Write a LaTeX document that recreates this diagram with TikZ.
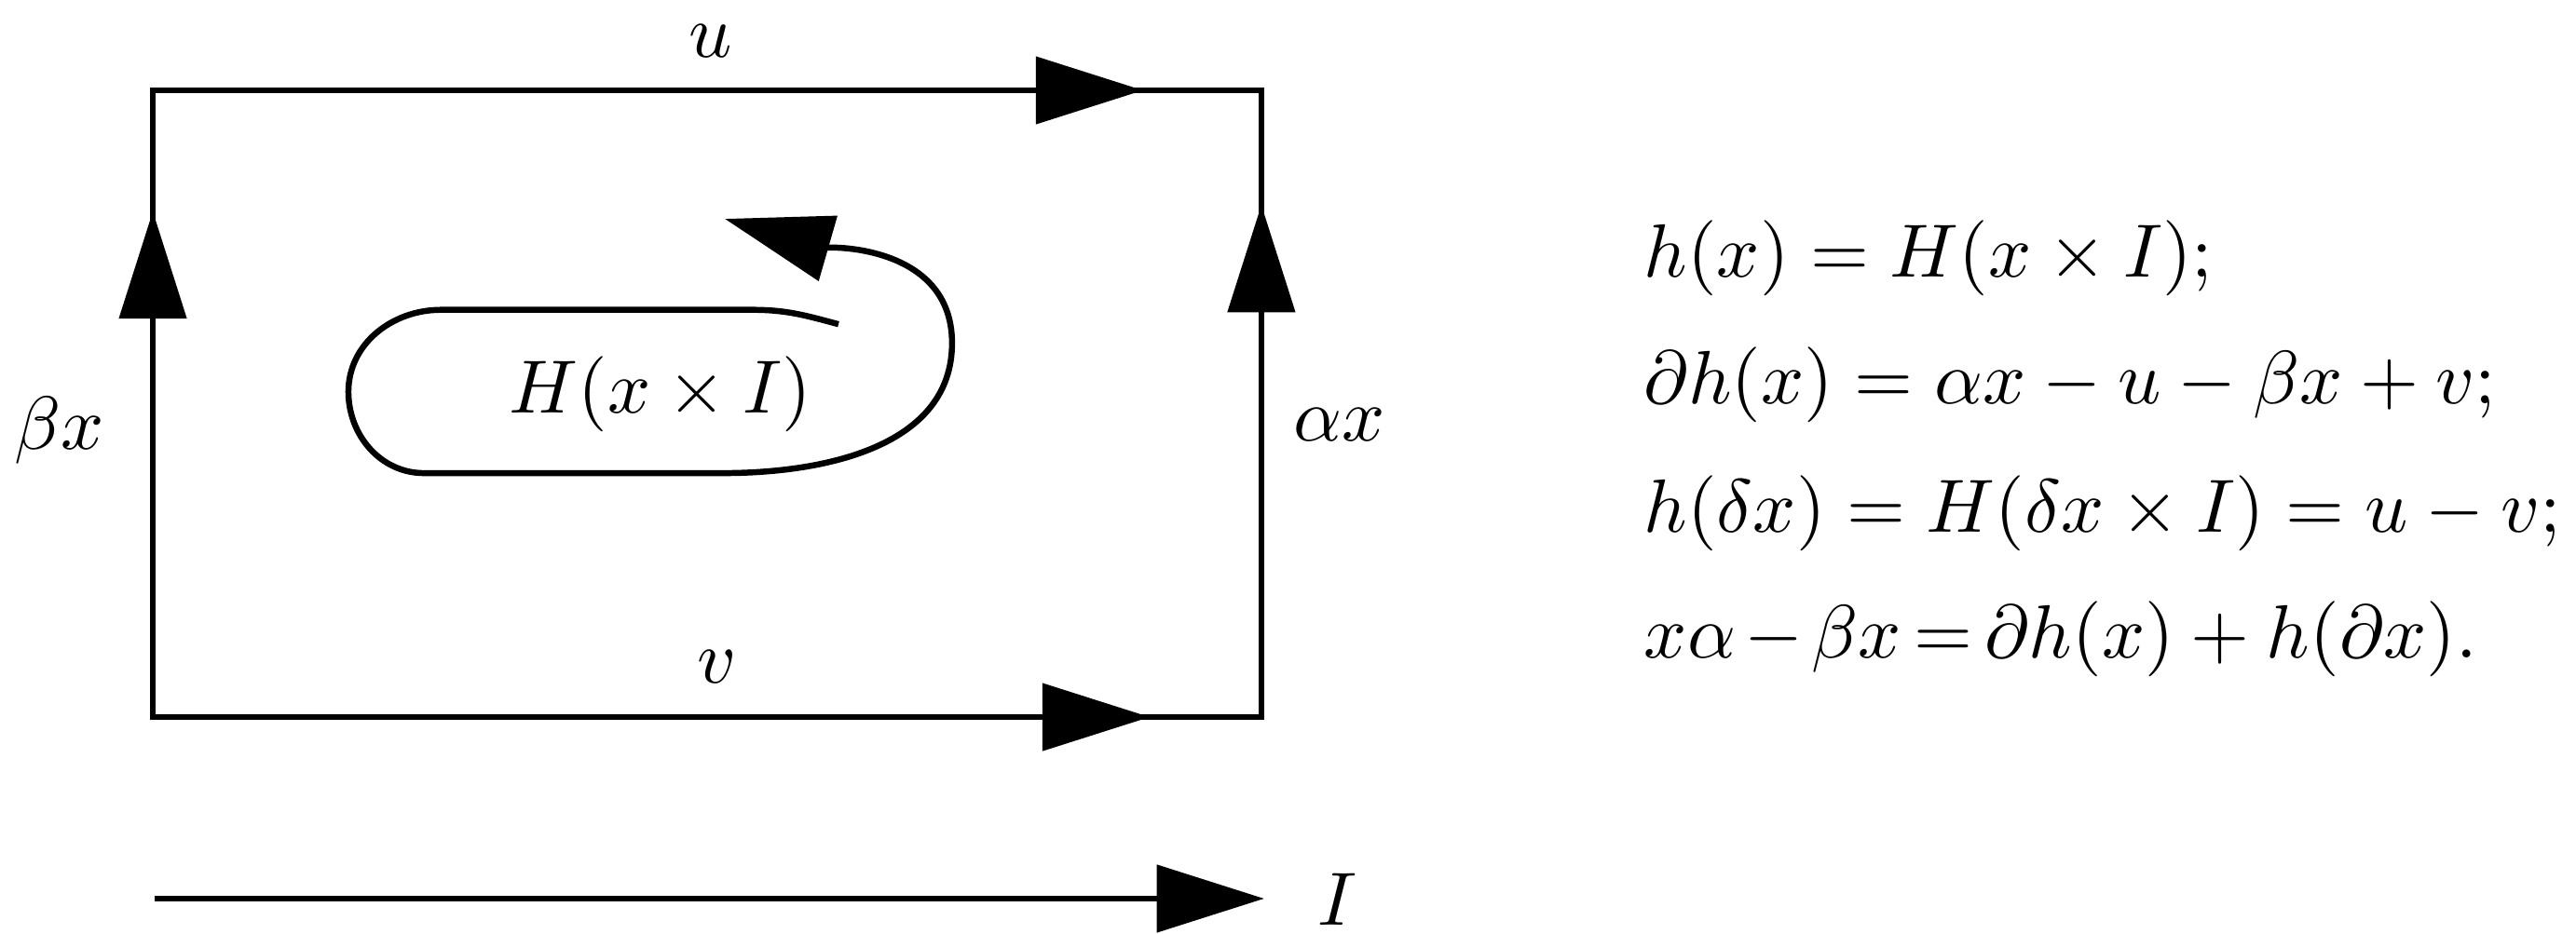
\documentclass[tikz,border=0pt]{standalone}
\usepackage{amsmath}
\usetikzlibrary{arrows.meta, calc, positioning}

\begin{document}
\begin{tikzpicture}[
  x=1cm, y=1cm,
  font=\normalsize,
  edge/.style={draw, line width=0.8pt},
  arr/.style={-{Triangle[length=0.5cm, width=0.31cm]}, line width=0.8pt},
  lbl/.style={inner sep=0pt},
  eq/.style={anchor=base west, inner sep=0pt}
]
\useasboundingbox (0,0) rectangle (12,4.349);

%% ——— Rectángulo x × I ———
\coordinate (sw) at (0.712, 1.007);
\coordinate (nw) at (0.712, 3.928);
\coordinate (ne) at (5.876, 3.928);
\coordinate (se) at (5.876, 1.007);
\draw[edge] (sw) -- (nw) -- (ne) -- (se) -- cycle;

%% ——— Puntas sobre los lados ———
\coordinate (tipw) at (0.712, 3.364);
\coordinate (tipe) at (5.876, 3.394);
\coordinate (tipn) at (5.325, 3.928);
\coordinate (tips) at (5.356, 1.007);
\draw[arr] (sw) -- (tipw);
\draw[arr] (se) -- (tipe);
\draw[arr] (nw) -- (tipn);
\draw[arr] (sw) -- (tips);

%% ——— Etiquetas de los lados ———
\node[lbl] (u)  at (3.311, 4.158) {$u$};
\node[lbl] (v)  at (3.342, 1.241) {$v$};
\node[lbl] (bx) at (0.275, 2.344) {$\beta x$};
\node[lbl] (ax) at (6.240, 2.370) {$\alpha x$};

%% ——— Lazo H(x × I) ———
\node[lbl] (hxi) at (3.077, 2.513) {$H(x \times I)$};
\draw[arr] (3.906,2.838) to[out=165,in=0] (3.506,2.905) -- (2.053,2.905)
  to[out=180,in=90] (1.623,2.523) to[out=-90,in=180] (1.975,2.144)
  -- (3.368,2.144) to[out=0,in=-90] (4.435,2.75) to[out=90,in=-16] (3.377,3.329);

%% ——— Eje I ———
\coordinate (istart) at (0.720, 0.161);
\coordinate (itip)   at (5.889, 0.161);
\node[lbl] (i) at (6.228, 0.156) {$I$};
\draw[arr] (istart) -- (itip);

%% ——— Ecuaciones ———
\node[eq] (eqa) at (7.652, 3.059) {$h(x) = H(x \times I);$};
\node[eq] (eqb) at (7.652, 2.468) {$\partial h(x) = \alpha x - u - \beta x + v;$};
\node[eq] (eqc) at (7.652, 1.869) {$h(\delta x) = H(\delta x \times I) = u - v;$};
\node[eq] (eqd) at (7.652, 1.283) {$x\alpha\mskip2mu{-}\mskip2mu\beta x\mskip3mu{=}\mskip3mu\partial h(x) + h(\partial x).$};

\end{tikzpicture}
\end{document}
